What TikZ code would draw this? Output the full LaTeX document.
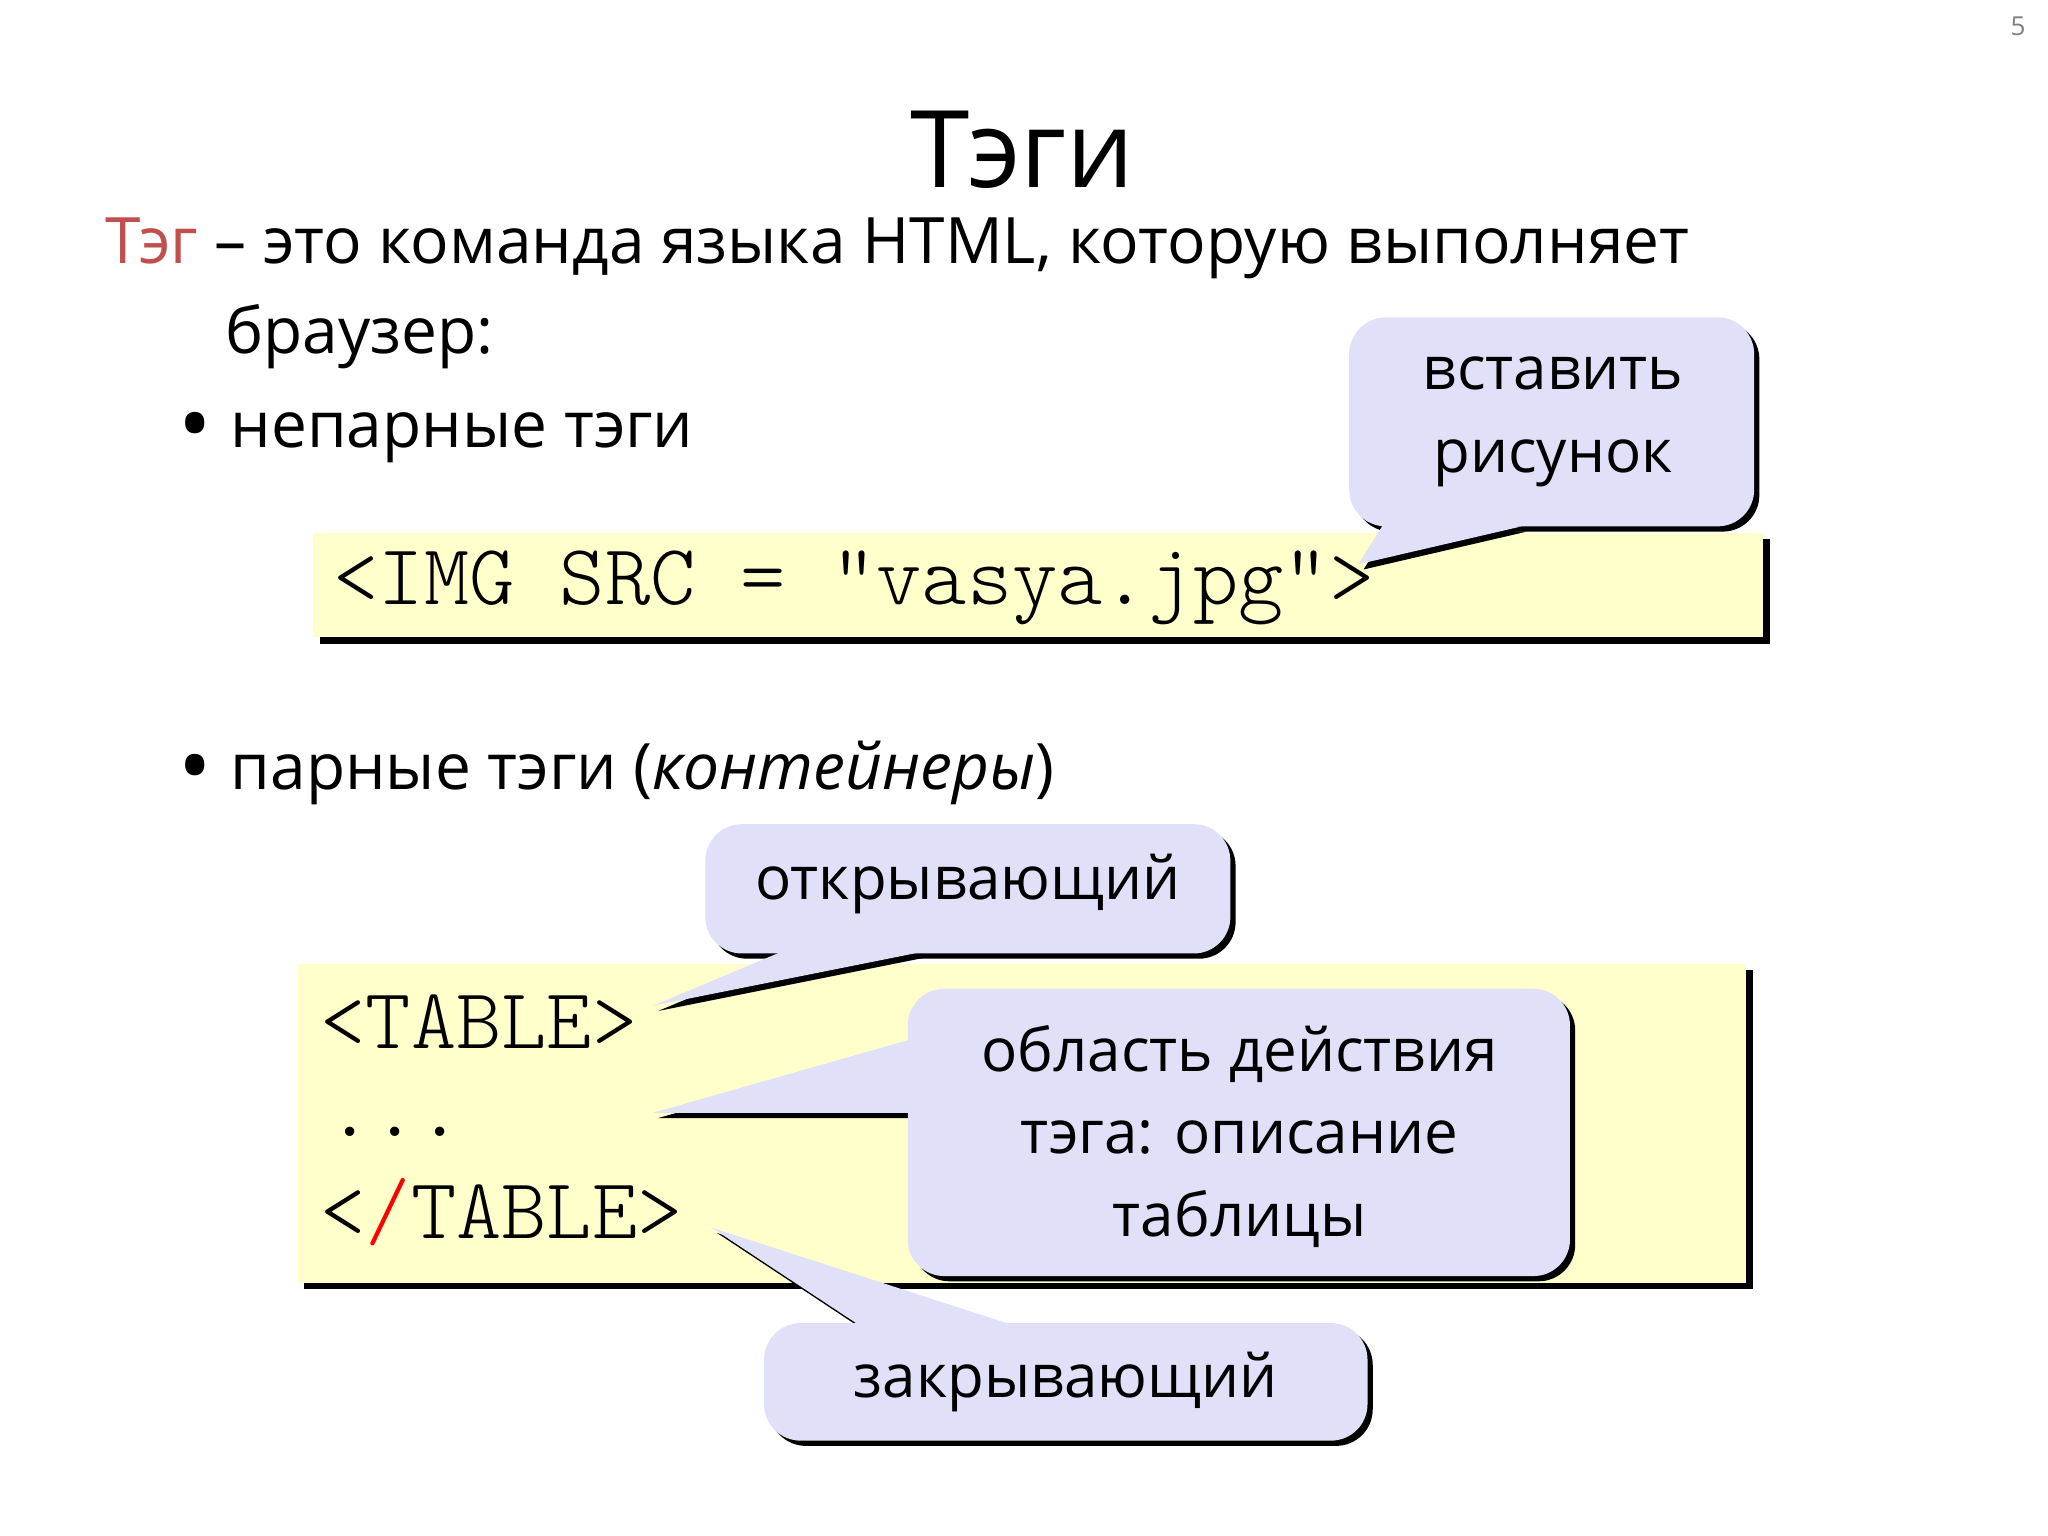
\documentclass[tikz,border=0pt]{standalone}
\usepackage{fontspec}
\setmainfont{Open Sans}
\newfontfamily\cmono{Latin Modern Mono Light}
\definecolor{lav}{HTML}{E0E0F8}
\definecolor{codey}{HTML}{FFFFCC}
\definecolor{tegred}{HTML}{C0504D}
\tikzset{
 txt/.style={anchor=west,inner sep=0pt,font=\fontsize{24.5}{30}\selectfont},
 code/.style={anchor=west,inner sep=0pt,font=\cmono\fontsize{33}{34}\selectfont},
 ctext/.style={align=center,inner sep=0pt,font=\fontsize{23}{31.5}\selectfont},
}
\newcommand{\callout}[5]{% x1 y1 x2 y2 pointer
 \fill[black,shift={(4,4)}] [rounded corners=14] (#1,#2) rectangle (#3,#4);
 \fill[black,shift={(4,4)}] #5 -- cycle;
 \fill[lav,rounded corners=14] (#1,#2) rectangle (#3,#4);
 \fill[lav] #5 -- cycle;
}
\newcommand{\codebox}[4]{%
 \fill[black] (#1+5,#2+5) rectangle (#3+5,#4+5);
 \fill[codey] (#1,#2) rectangle (#3,#4);
}
\newcommand{\bul}{\raisebox{-0.12em}{\fontsize{34}{30}\selectfont•}}
\begin{document}
\begin{tikzpicture}[x=0.5pt,y=-0.5pt]
\useasboundingbox (0,0) rectangle (1568,1176);
\fill[white] (0,0) rectangle (1568,1176);
\node[text=gray,font=\fontsize{10}{12}\selectfont] (pg) at (1545,20) {5};
\node[font=\fontsize{41}{50}\selectfont] (title) at (783,115) {Тэги};
\node[txt] (l1) at (80,190) {\textcolor{tegred}{Тэг} – это команда языка HTML, которую выполняет};
\node[txt] (l2) at (172,258) {браузер:};
\node[txt] (b1) at (136,335) {\bul\hspace{0.3em}непарные тэги};
\codebox{240}{408}{1350}{488}
\node[code] (c1) at (255,450) {<IMG SRC = "vasya.jpg">};
\callout{1033}{243}{1343}{403}{(1060,400) -- (1040,432) -- (1165,403)}
\node[ctext] (k1) at (1189,323) {вставить\\рисунок};
\node[txt] (b2) at (136,592) {\bul\hspace{0.3em}парные тэги (\textit{контейнеры})};
\codebox{228}{738}{1337}{982}
\node[code] (c2) at (245,782) {<TABLE>};
\node[code,anchor=base west] (c3) at (250,870) {...};
\node[code] (c4) at (245,928) {<\textcolor{red}{/}TABLE>};
\callout{540}{631}{942}{730}{(600,728) -- (500,770) -- (710,728)}
\node[ctext] (k2) at (741,677) {открывающий};
\callout{695}{757}{1202}{977}{(700,795) -- (500,852) -- (700,852)}
\node[ctext] (k3) at (949,870) {область действия\\тэга: описание\\таблицы};
\callout{585}{1013}{1047}{1103}{(660,1016) -- (545,940) -- (780,1016)}
\node[ctext] (k4) at (816,1058) {закрывающий};
\end{tikzpicture}
\end{document}
